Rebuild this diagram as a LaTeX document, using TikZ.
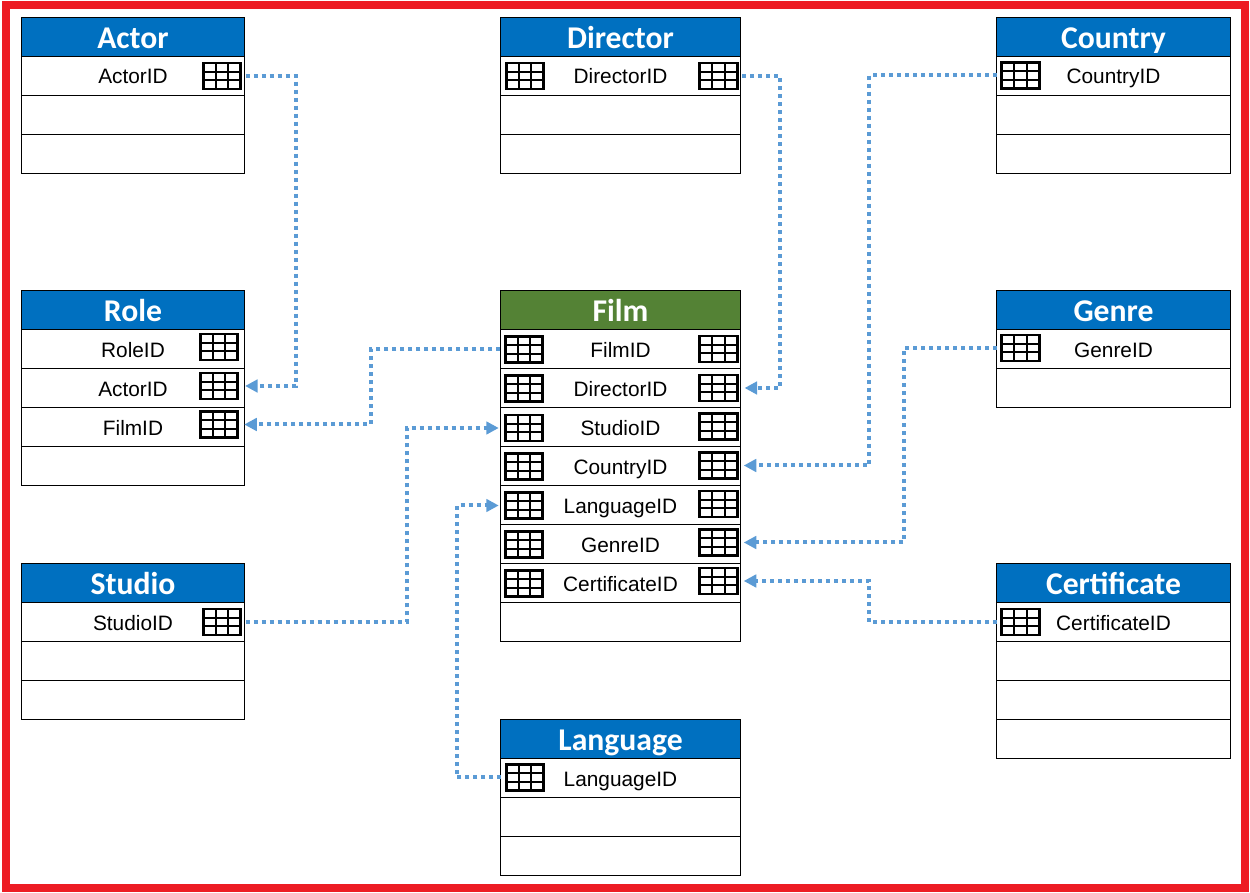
\documentclass[tikz,border=0pt]{standalone}
\usepackage{fontspec}
\setmainfont{Liberation Sans}
\newfontfamily\headfont{Carlito}
\usetikzlibrary{arrows.meta}
\definecolor{framered}{HTML}{ED1C24}
\definecolor{headblue}{HTML}{0070C0}
\definecolor{headgreen}{HTML}{548235}
\definecolor{linkblue}{HTML}{5B9BD5}
\tikzset{
  head/.style={draw=black,line width=.6pt,inner sep=0pt,minimum height=23.4pt,text=white,text height=14pt,text depth=.4pt,font=\headfont\fontsize{19pt}{22pt}\bfseries},
  row/.style={draw=black,line width=.6pt,inner sep=0pt,minimum height=23.4pt,text height=10.1pt,text depth=.5pt,font=\fontsize{12.5pt}{14pt}\selectfont},
  sidew/.style={minimum width=133.8pt},
  midw/.style={minimum width=144pt},
  rightw/.style={minimum width=140.4pt},
  gridicon/.style={draw=black,line width=1.7pt,fill=white,inner sep=0pt,minimum width=22.6pt,minimum height=15.6pt,
    path picture={
      \draw[line width=1.1pt] (path picture bounding box.center) ++(-6.2,-15) -- ++(0,30);
      \draw[line width=1.1pt] (path picture bounding box.center) ++(6.2,-15) -- ++(0,30);
      \draw[line width=1.1pt] (path picture bounding box.center) ++(-20,-4.3) -- ++(40,0);
      \draw[line width=1.1pt] (path picture bounding box.center) ++(-20,4.3) -- ++(40,0);
    }},
  link/.style={draw=linkblue,line width=2.4pt,dash pattern=on 2.4pt off 2.4pt,-{Triangle[length=7.5pt,width=7.5pt]}},
}
\begin{document}
\begin{tikzpicture}[x=.6pt,y=-.6pt]
\useasboundingbox (0,0) rectangle (1250,893);
\draw[framered,line width=4.8pt] (6,5) rectangle (1245,888);
%% Actor
\node (Actor) at (133,37) [head,sidew,fill=headblue] {Actor};
\node (ActorRow1) at (133,76) [row,sidew] {ActorID};
\node (ActorRow2) at (133,115) [row,sidew] {};
\node (ActorRow3) at (133,154) [row,sidew] {};
\node (ActorKey) at (222,76) [gridicon] {};
%% Role
\node (Role) at (133,310.5) [head,sidew,fill=headblue] {Role};
\node (RoleRow1) at (133,349.5) [row,sidew] {RoleID};
\node (RoleRow2) at (133,388.5) [row,sidew] {ActorID};
\node (RoleRow3) at (133,427.5) [row,sidew] {FilmID};
\node (RoleRow4) at (133,466) [row,sidew] {};
\node (RoleKey1) at (219,347) [gridicon] {};
\node (RoleKey2) at (219,386) [gridicon] {};
\node (RoleKey3) at (219,424.5) [gridicon] {};
%% Studio
\node (Studio) at (133,583.5) [head,sidew,fill=headblue] {Studio};
\node (StudioRow1) at (133,622.5) [row,sidew] {StudioID};
\node (StudioRow2) at (133,661.5) [row,sidew] {};
\node (StudioRow3) at (133,700) [row,sidew] {};
\node (StudioKey) at (222,622) [gridicon] {};
%% Director
\node (Director) at (620.5,37) [head,midw,fill=headblue] {Director};
\node (DirectorRow1) at (620.5,76) [row,midw] {DirectorID};
\node (DirectorRow2) at (620.5,115) [row,midw] {};
\node (DirectorRow3) at (620.5,154) [row,midw] {};
\node (DirectorKeyL) at (525,76) [gridicon] {};
\node (DirectorKeyR) at (718.5,76) [gridicon] {};
%% Film
\node (Film) at (620.5,310.5) [head,midw,fill=headgreen] {Film};
\node (FilmRow1) at (620.5,349.5) [row,midw] {FilmID};
\node (FilmRow2) at (620.5,388.5) [row,midw] {DirectorID};
\node (FilmRow3) at (620.5,427.5) [row,midw] {StudioID};
\node (FilmRow4) at (620.5,466.5) [row,midw] {CountryID};
\node (FilmRow5) at (620.5,505.5) [row,midw] {LanguageID};
\node (FilmRow6) at (620.5,544.5) [row,midw] {GenreID};
\node (FilmRow7) at (620.5,583.5) [row,midw] {CertificateID};
\node (FilmRow8) at (620.5,622) [row,midw] {};
\node (FilmKeyL1) at (524,349.5) [gridicon] {};
\node (FilmKeyL2) at (524,388.5) [gridicon] {};
\node (FilmKeyL3) at (524,428) [gridicon] {};
\node (FilmKeyL4) at (524,466.5) [gridicon] {};
\node (FilmKeyL5) at (524,505.5) [gridicon] {};
\node (FilmKeyL6) at (524,544.5) [gridicon] {};
\node (FilmKeyL7) at (524,583.5) [gridicon] {};
\node (FilmKeyR1) at (718.5,349) [gridicon] {};
\node (FilmKeyR2) at (718.5,388) [gridicon] {};
\node (FilmKeyR3) at (718.5,426.5) [gridicon] {};
\node (FilmKeyR4) at (718.5,465.5) [gridicon] {};
\node (FilmKeyR5) at (718.5,504) [gridicon] {};
\node (FilmKeyR6) at (718.5,542.5) [gridicon] {};
\node (FilmKeyR7) at (718.5,581) [gridicon] {};
%% Language
\node (Language) at (620.5,739.5) [head,midw,fill=headblue] {Language};
\node (LanguageRow1) at (620.5,778.5) [row,midw] {LanguageID};
\node (LanguageRow2) at (620.5,817.5) [row,midw] {};
\node (LanguageRow3) at (620.5,856.5) [row,midw] {};
\node (LanguageKey) at (525,777.5) [gridicon] {};
%% Country
\node (Country) at (1113.5,37) [head,rightw,fill=headblue] {Country};
\node (CountryRow1) at (1113.5,76) [row,rightw] {CountryID};
\node (CountryRow2) at (1113.5,115) [row,rightw] {};
\node (CountryRow3) at (1113.5,154) [row,rightw] {};
\node (CountryKey) at (1020.5,75.5) [gridicon] {};
%% Genre
\node (Genre) at (1113.5,310.5) [head,rightw,fill=headblue] {Genre};
\node (GenreRow1) at (1113.5,349.5) [row,rightw] {GenreID};
\node (GenreRow2) at (1113.5,388) [row,rightw] {};
\node (GenreKey) at (1020.5,348) [gridicon] {};
%% Certificate
\node (Certificate) at (1113.5,583.5) [head,rightw,fill=headblue] {Certificate};
\node (CertificateRow1) at (1113.5,622.5) [row,rightw] {CertificateID};
\node (CertificateRow2) at (1113.5,661.5) [row,rightw] {};
\node (CertificateRow3) at (1113.5,700.5) [row,rightw] {};
\node (CertificateRow4) at (1113.5,739) [row,rightw] {};
\node (CertificateKey) at (1020.5,622) [gridicon] {};
%% links
\draw [link,shorten <=2pt,shorten >=3.5pt] (ActorKey.east) -- (296,76) |- (RoleKey2.east);
\draw [link,shorten <=2pt,shorten >=3.5pt] (DirectorKeyR.east) -- (780,76) |- (FilmKeyR2.east);
\draw [link,shorten <=2pt,shorten >=3pt] (CountryKey.west) -- (869,75.5) |- (FilmKeyR4.east);
\draw [link,shorten <=2pt,shorten >=3pt] (GenreKey.west) -- (904,348) |- (FilmKeyR6.east);
\draw [link,shorten <=2pt,shorten >=3pt] (CertificateKey.west) -- (869,622) |- (FilmKeyR7.east);
\draw [link,shorten <=2pt,shorten >=3pt] (FilmKeyL1.west) -- (371,349.5) |- (RoleKey3.east);
\draw [link,shorten <=2pt,shorten >=3pt] (StudioKey.east) -- (407,622) |- (FilmKeyL3.west);
\draw [link,shorten <=2pt,shorten >=3pt] (LanguageKey.west) -- (457,777.5) |- (FilmKeyL5.west);
%
\end{tikzpicture}
\end{document}
